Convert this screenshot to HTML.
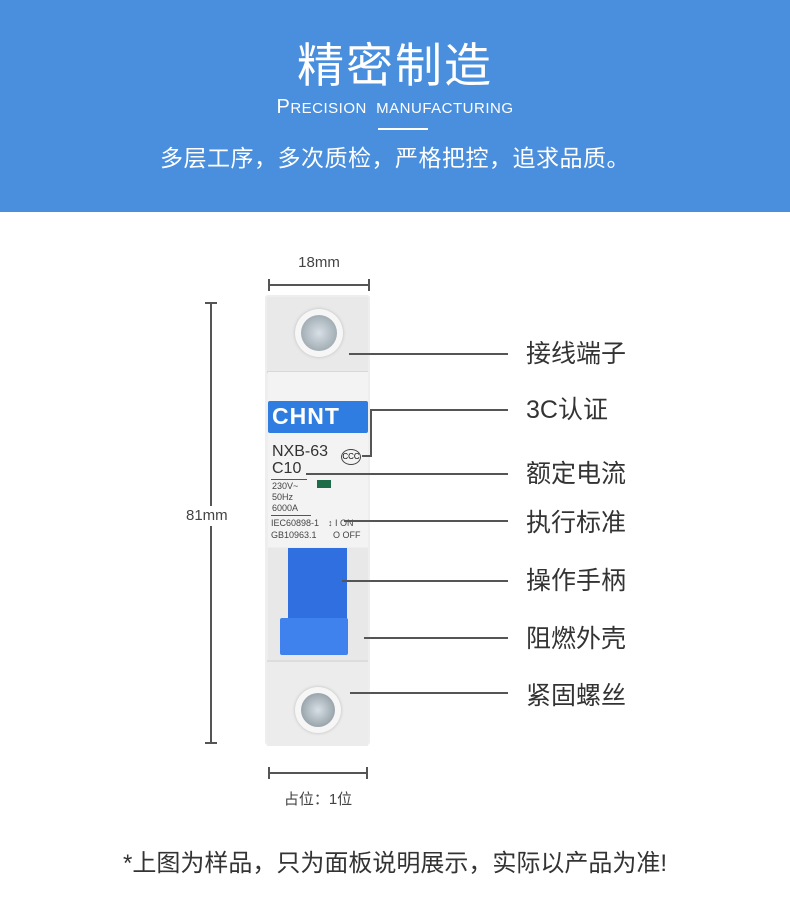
<!DOCTYPE html>
<html><head><meta charset="utf-8"><style>
body{margin:0;width:790px;height:906px;background:#fff;position:relative;overflow:hidden;font-family:"Liberation Sans","Noto Sans CJK SC",sans-serif}
.a{position:absolute}
.lbl{position:absolute;left:526px;font-size:25px;color:#333;line-height:28px}
.ln{position:absolute;height:2px;background:#555}
</style></head><body>
<div class="a" style="left:0;top:0;width:790px;height:212px;background:#4a8fdd"></div>
<div class="a" style="left:0;top:37px;width:790px;text-align:center;color:#fff;font-size:47px;line-height:58px;letter-spacing:2px">精密制造</div>
<div class="a" style="left:0;top:96px;width:790px;text-align:center;color:#fff;font-size:15px;line-height:22px;letter-spacing:0.5px"><span style="font-size:20px">P</span>RECISION &nbsp;MANUFACTURING</div>
<div class="a" style="left:378px;top:128px;width:50px;height:2px;background:#fff"></div>
<div class="a" style="left:0;top:142px;width:790px;text-align:center;color:#fff;font-size:23px;line-height:32px;letter-spacing:0.5px">多层工序，多次质检，严格把控，追求品质。</div>

<!-- dimension lines -->
<div class="a" style="left:268px;top:284px;width:102px;height:2px;background:#555"></div>
<div class="a" style="left:268px;top:279px;width:2px;height:12px;background:#555"></div>
<div class="a" style="left:368px;top:279px;width:2px;height:12px;background:#555"></div>
<div class="a" style="left:268px;top:254px;width:102px;text-align:center;font-size:15px;color:#444">18mm</div>
<div class="a" style="left:210px;top:302px;width:2px;height:442px;background:#555"></div>
<div class="a" style="left:205px;top:302px;width:12px;height:2px;background:#555"></div>
<div class="a" style="left:205px;top:742px;width:12px;height:2px;background:#555"></div>
<div class="a" style="left:186px;top:506px;width:60px;font-size:15px;color:#444;background:#fff;line-height:20px">81mm</div>
<div class="a" style="left:268px;top:772px;width:100px;height:2px;background:#555"></div>
<div class="a" style="left:268px;top:767px;width:2px;height:12px;background:#555"></div>
<div class="a" style="left:366px;top:767px;width:2px;height:12px;background:#555"></div>
<div class="a" style="left:268px;top:788px;width:100px;text-align:center;font-size:15px;color:#444">占位：1位</div>

<!-- breaker -->
<div class="a" style="left:265px;top:295px;width:105px;height:450px;background:#eeeeee;border-radius:3px"></div>
<div class="a" style="left:267px;top:297px;width:101px;height:74px;background:#e9e9ea;border-bottom:2px solid #d8d8d8"></div>
<div class="a" style="left:295px;top:309px;width:48px;height:48px;border-radius:50%;background:#f6f6f6;box-shadow:0 0 3px #bbb"></div>
<div class="a" style="left:301px;top:315px;width:36px;height:36px;border-radius:50%;background:radial-gradient(#d8e0e6,#8c98a0)"></div>
<div class="a" style="left:268px;top:372px;width:100px;height:175px;background:#f3f3f3"></div>
<div class="a" style="left:268px;top:401px;width:100px;height:32px;background:#2f7de0;border-radius:2px"></div>
<div class="a" style="left:272px;top:403px;font-size:23px;font-weight:bold;color:#fff;letter-spacing:1px">CHNT</div>
<div class="a" style="left:272px;top:443px;font-size:16px;color:#333">NXB-63</div>
<div class="a" style="left:272px;top:460px;font-size:16px;color:#333">C10</div>
<div class="a" style="left:341px;top:449px;width:18px;height:14px;border:1.5px solid #444;border-radius:50%;font-size:8px;line-height:14px;text-align:center">CCC</div>
<div class="a" style="left:271px;top:479px;width:36px;height:1px;background:#555"></div>
<div class="a" style="left:272px;top:481px;font-size:9px;color:#444;line-height:11px">230V~<br>50Hz<br>6000A</div>
<div class="a" style="left:317px;top:480px;width:14px;height:8px;background:#1e6b4a"></div>
<div class="a" style="left:271px;top:515px;width:40px;height:1px;background:#555"></div>
<div class="a" style="left:271px;top:517px;font-size:9px;color:#444;line-height:12px">IEC60898-1<br>GB10963.1</div>
<div class="a" style="left:328px;top:517px;font-size:9px;color:#444;line-height:12px">↕ I ON<br>&nbsp;&nbsp;O OFF</div>
<div class="a" style="left:268px;top:548px;width:100px;height:112px;background:#e8e8e8"></div>
<div class="a" style="left:288px;top:548px;width:59px;height:78px;background:#2f6fe0"></div>
<div class="a" style="left:280px;top:618px;width:68px;height:37px;background:#3f82ee;border-radius:2px"></div>
<div class="a" style="left:267px;top:660px;width:101px;height:84px;background:#ececec;border-top:2px solid #ddd"></div>
<div class="a" style="left:295px;top:687px;width:46px;height:46px;border-radius:50%;background:#f6f6f6;box-shadow:0 0 3px #bbb"></div>
<div class="a" style="left:301px;top:693px;width:34px;height:34px;border-radius:50%;background:radial-gradient(#d8e0e6,#7f8c94)"></div>

<!-- leaders -->
<div class="ln" style="left:349px;top:353px;width:159px"></div>
<div class="ln" style="left:370px;top:409px;width:138px"></div>
<div class="a" style="left:370px;top:409px;width:2px;height:48px;background:#555"></div>
<div class="ln" style="left:362px;top:455px;width:10px"></div>
<div class="ln" style="left:306px;top:473px;width:202px"></div>
<div class="ln" style="left:344px;top:520px;width:164px"></div>
<div class="ln" style="left:342px;top:580px;width:166px"></div>
<div class="ln" style="left:364px;top:637px;width:144px"></div>
<div class="ln" style="left:350px;top:692px;width:158px"></div>
<div class="lbl" style="top:340px">接线端子</div>
<div class="lbl" style="top:396px">3C认证</div>
<div class="lbl" style="top:460px">额定电流</div>
<div class="lbl" style="top:509px">执行标准</div>
<div class="lbl" style="top:567px">操作手柄</div>
<div class="lbl" style="top:625px">阻燃外壳</div>
<div class="lbl" style="top:682px">紧固螺丝</div>

<div class="a" style="left:0;top:843px;width:790px;text-align:center;font-size:24px;color:#333">*上图为样品，只为面板说明展示，实际以产品为准!</div>
</body></html>
